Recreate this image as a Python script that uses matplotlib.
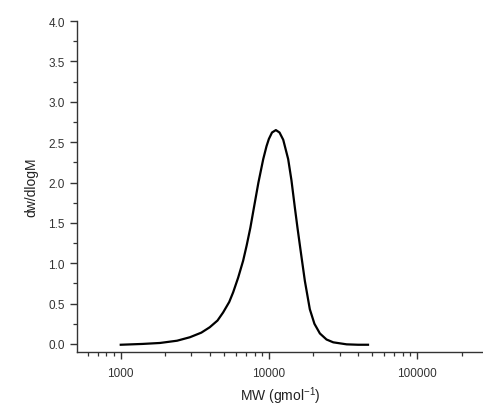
import matplotlib

matplotlib.use("Agg")

import matplotlib.pyplot as plt
from matplotlib.ticker import FixedLocator, LogLocator, MultipleLocator, NullFormatter

plt.rcParams["font.family"] = ["Liberation Sans", "DejaVu Sans"]

# molecular weight (g/mol) and dw/dlogM
mw = [1000, 1400, 1840, 2400, 2930, 3500, 3990, 4500, 4910, 5400, 5740, 6200, 6700,
      7080, 7500, 7840, 8500, 9160, 9640, 10000, 10500, 11150, 11800, 12500, 13500,
      14200, 15000, 15600, 16200, 16600, 17500, 18900, 20300, 22100, 24500, 27200,
      33500, 40000, 46700]
dwdlogm = [-0.01, 0.0, 0.012, 0.04, 0.083, 0.14, 0.207, 0.29, 0.39, 0.52, 0.64, 0.82, 1.03,
           1.22, 1.44, 1.64, 2.0, 2.29, 2.45, 2.54, 2.62, 2.65, 2.62, 2.53, 2.29,
           2.03, 1.68, 1.44, 1.22, 1.08, 0.78, 0.43, 0.25, 0.13, 0.055, 0.02,
           -0.005, -0.01, -0.01]

xticks = [1000, 10000, 100000]
xticklabels = ["1000", "10000", "100000"]

fig = plt.figure(figsize=(4.83, 4.10), dpi=100)
ax = fig.add_axes([0.159, 0.139, 0.841, 0.807])

ax.plot(mw, dwdlogm, color="black", linewidth=1.6)

ax.set_xscale("log")
ax.set_xlim(505, 279000)
ax.set_ylim(-0.1, 4.0)

ax.xaxis.set_major_locator(FixedLocator(xticks))
ax.set_xticklabels(xticklabels)
ax.xaxis.set_minor_locator(LogLocator(base=10, subs=range(2, 10)))
ax.xaxis.set_minor_formatter(NullFormatter())
ax.yaxis.set_major_locator(MultipleLocator(0.5))
ax.yaxis.set_minor_locator(MultipleLocator(0.25))
ax.yaxis.set_major_formatter(matplotlib.ticker.FormatStrFormatter("%.1f"))

for side in ["top", "right"]:
    ax.spines[side].set_visible(False)
for side in ["left", "bottom"]:
    ax.spines[side].set_linewidth(1.0)
    ax.spines[side].set_color("#333333")

ax.tick_params(which="major", direction="out", length=5, width=1.0, labelsize=8.5, colors="#333333")
ax.tick_params(axis="x", which="major", pad=6)
ax.tick_params(which="minor", direction="out", length=3, width=0.9, colors="#333333")

ax.set_xlabel("MW (gmol$^{\\mathregular{-1}}$)", fontsize=10, color="#222222", labelpad=4)
ax.set_ylabel("dw/dlogM", fontsize=10, color="#222222", labelpad=7)

fig.savefig("out.png", dpi=100)
